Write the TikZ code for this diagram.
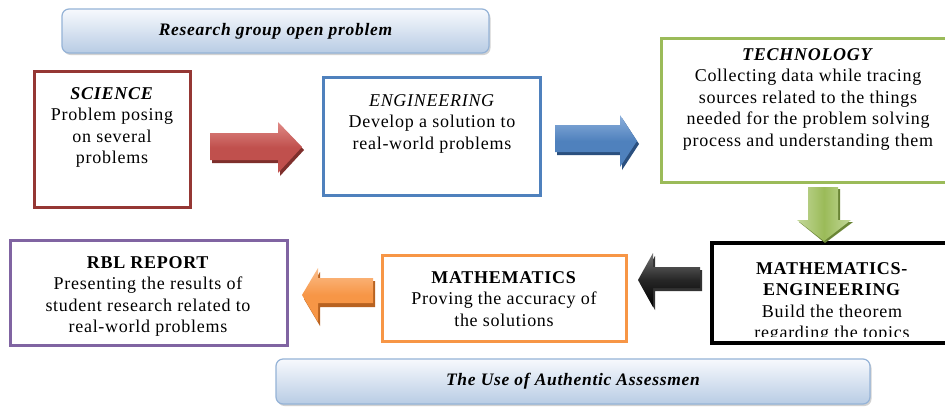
\documentclass[tikz,border=0pt]{standalone}
\usepackage{fontspec}
\setmainfont[LetterSpace=4]{Liberation Serif}
\usetikzlibrary{shadows}
\definecolor{scired}{HTML}{953734}
\definecolor{engblue}{HTML}{4F81BD}
\definecolor{techgreen}{HTML}{9BBB59}
\definecolor{mathorange}{HTML}{F79646}
\definecolor{rblpurple}{HTML}{8064A2}
\definecolor{bannerline}{HTML}{95B3D7}
\definecolor{bannertop}{HTML}{F7F9FD}
\definecolor{bannerbot}{HTML}{B8CCE4}
\definecolor{redtop}{HTML}{E08A86}
\definecolor{redmid}{HTML}{C0504D}
\definecolor{reddark}{HTML}{7E2F2C}
\definecolor{bluetop}{HTML}{8DB0DC}
\definecolor{bluemid}{HTML}{4F81BD}
\definecolor{bluedark}{HTML}{2A4F7E}
\definecolor{greentop}{HTML}{C3D89A}
\definecolor{greenmid}{HTML}{9BBB59}
\definecolor{greendark}{HTML}{6A8535}
\definecolor{orangetop}{HTML}{FBBE8C}
\definecolor{orangemid}{HTML}{F79646}
\definecolor{orangedark}{HTML}{B86220}
\begin{document}
\begin{tikzpicture}[x=1pt,y=-1pt,
  box/.style={draw, line width=3pt, fill=white, inner sep=0pt},
  txt/.style={align=center, inner sep=0pt, anchor=north, font=\fontsize{18}{21.5}\selectfont},
  banner/.style={draw=bannerline, line width=1.2pt, rounded corners=7pt,
     top color=bannertop, bottom color=bannerbot, inner sep=0pt,
     font=\fontsize{17.5}{20}\selectfont\bfseries\itshape,
     drop shadow={shadow xshift=1.5pt, shadow yshift=-2pt, opacity=0.35}},
  blockarrow/.style={draw=none}
]
\useasboundingbox[fill=white] (0,0) rectangle (945,408);

% banners
\node[banner, minimum width=427pt, minimum height=44pt] (topban) at (275.5,31) {Research group open problem};
\node[banner, minimum width=594pt, minimum height=45pt] (botban) at (573,381.5) {The Use of Authentic Assessmen};

% boxes
\node[box, draw=scired, minimum width=156pt, minimum height=135.5pt] (sci) at (112.5,139.25) {};
\node[box, draw=engblue, minimum width=216.5pt, minimum height=117.5pt] (eng) at (431.75,136.25) {};
\node[box, draw=techgreen, minimum width=298.5pt, minimum height=144pt] (tech) at (810.75,110.5) {};
\node[box, draw=black, line width=4pt, minimum width=248pt, minimum height=100pt] (meng) at (836,293) {};
\node[box, draw=mathorange, minimum width=243.5pt, minimum height=86pt] (math) at (504.25,298) {};
\node[box, draw=rblpurple, minimum width=277pt, minimum height=105pt] (rbl) at (148.5,292.5) {};

% texts
\node[txt] (scit) at (112,87) {\textbf{\textit{SCIENCE}}\\Problem posing\\on several\\problems};
\node[txt] (engt) at (432,94) {\textit{ENGINEERING}\\Develop a solution to\\real-world problems};
\node[txt] (techt) at (808,48) {\textbf{\textit{TECHNOLOGY}}\\Collecting data while tracing\\sources related to the things\\needed for the problem solving\\process and understanding them};
\begin{scope}
\clip (714,245) rectangle (945,336);
\node[txt] (mengt) at (832,262) {\textbf{MATHEMATICS-}\\\textbf{ENGINEERING}\\Build the theorem\\regarding the topics};
\end{scope}
\node[txt] (matht) at (504,271) {\textbf{MATHEMATICS}\\Proving the accuracy of\\the solutions};
\node[txt] (rblt) at (148,256) {\textbf{RBL REPORT}\\Presenting the results of\\student research related to\\real-world problems};

% block arrows: extrusion (dark) then face
% red
\fill[reddark] (212,136) -- (280,136) -- (280,125) -- (304,150) -- (280,176) -- (280,163) -- (212,163) -- cycle;
\path[blockarrow, top color=redtop, bottom color=redmid, middle color=redmid]
  (210,133) -- (278,133) -- (278,122) -- (302,147) -- (278,173) -- (278,160) -- (210,160) -- cycle;
% blue
\fill[bluedark] (557,128) -- (622,128) -- (622,118) -- (639,144) -- (622,170) -- (622,155) -- (557,155) -- cycle;
\path[blockarrow, top color=bluetop, bottom color=bluemid, middle color=bluemid]
  (555,125) -- (620,125) -- (620,115) -- (637,141) -- (620,167) -- (620,152) -- (555,152) -- cycle;
% green (down)
\fill[greendark] (810,189) -- (840,189) -- (840,222) -- (853,222) -- (825,243) -- (799,222) -- (810,222) -- cycle;
\path[blockarrow, left color=greentop, right color=greentop, middle color=greenmid]
  (808,187) -- (838,187) -- (838,220) -- (851,220) -- (824,241) -- (797,220) -- (808,220) -- cycle;
% black (left)
\fill[black!80] (702,270) -- (655,270) -- (655,256) -- (640,283) -- (655,310) -- (655,291) -- (702,291) -- cycle;
\path[blockarrow, top color=black!55, bottom color=black, middle color=black!85]
  (700,267) -- (653,267) -- (653,253) -- (638,280) -- (653,307) -- (653,288) -- (700,288) -- cycle;
% orange (left)
\fill[orangedark] (375,281) -- (320,281) -- (320,272) -- (304,299) -- (320,326) -- (320,307) -- (375,307) -- cycle;
\path[blockarrow, top color=orangetop, bottom color=orangemid, middle color=orangemid]
  (373,278) -- (318,278) -- (318,268) -- (302,295) -- (318,322) -- (318,303) -- (373,303) -- cycle;
\end{tikzpicture}
\end{document}
